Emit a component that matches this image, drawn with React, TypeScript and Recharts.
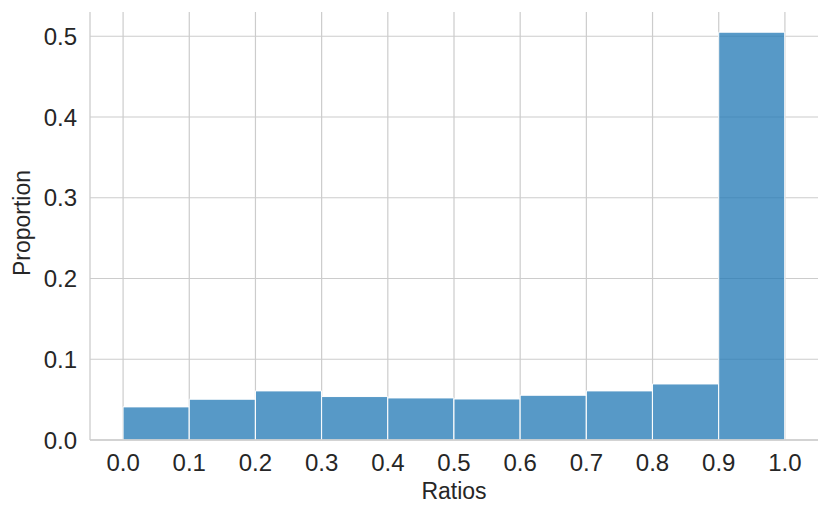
import React from 'react';
import { ComposedChart, Bar, XAxis, YAxis, CartesianGrid, Label } from 'recharts';

const binCenters = [0.05, 0.15, 0.25, 0.35, 0.45, 0.55, 0.65, 0.75, 0.85, 0.95];
const proportions = [0.041, 0.0505, 0.0608, 0.0538, 0.0521, 0.0508, 0.0554, 0.0608, 0.0694, 0.505];
const xTicks = [0, 0.1, 0.2, 0.3, 0.4, 0.5, 0.6, 0.7, 0.8, 0.9, 1.0];
const yTicks = [0, 0.1, 0.2, 0.3, 0.4, 0.5];

const data = binCenters.map((c, i) => ({ x: c, value: proportions[i] }));

const FONT = '"Liberation Sans", Arial, Helvetica, sans-serif';
const TEXT = '#262626';
const GRID = '#cccccc';

export default function App() {
  return (
    <div style={{ position: 'absolute', left: 0, top: 0, background: '#fff' }}>
      <ComposedChart
        width={830}
        height={519}
        data={data}
        margin={{ top: 12, right: 12, bottom: 0, left: 0 }}
        barCategoryGap={0}
        barGap={0}
      >
        <CartesianGrid stroke={GRID} strokeWidth={1.2} syncWithTicks />
        <XAxis
          dataKey="x"
          type="number"
          domain={[-0.05, 1.05]}
          allowDataOverflow
          ticks={xTicks}
          tickFormatter={(v: number) => v.toFixed(1)}
          height={79}
          tickSize={0}
          tickLine={false}
          tickMargin={14}
          axisLine={{ stroke: GRID, strokeWidth: 1.3 }}
          tick={{ fill: TEXT, fontSize: 24, fontFamily: FONT }}
          interval={0}
        >
          <Label value="Ratios" position="center" dy={11} style={{ fill: TEXT, fontSize: 23, fontFamily: FONT }} />
        </XAxis>
        <YAxis
          type="number"
          domain={[0, 0.53]}
          allowDataOverflow
          ticks={yTicks}
          tickFormatter={(v: number) => v.toFixed(1)}
          width={90}
          tickSize={0}
          tickLine={false}
          tickMargin={13}
          axisLine={{ stroke: GRID, strokeWidth: 1.3 }}
          tick={{ fill: TEXT, fontSize: 24, fontFamily: FONT }}
          interval={0}
        >
          <Label value="Proportion" angle={-90} position="center" dx={-23} dy={-3} style={{ fill: TEXT, fontSize: 23, fontFamily: FONT, textAnchor: 'middle' }} />
        </YAxis>
        <Bar
          dataKey="value"
          fill="#1f77b4"
          fillOpacity={0.75}
          stroke="#ffffff"
          strokeWidth={1}
          isAnimationActive={false}
        />
      </ComposedChart>
    </div>
  );
}
